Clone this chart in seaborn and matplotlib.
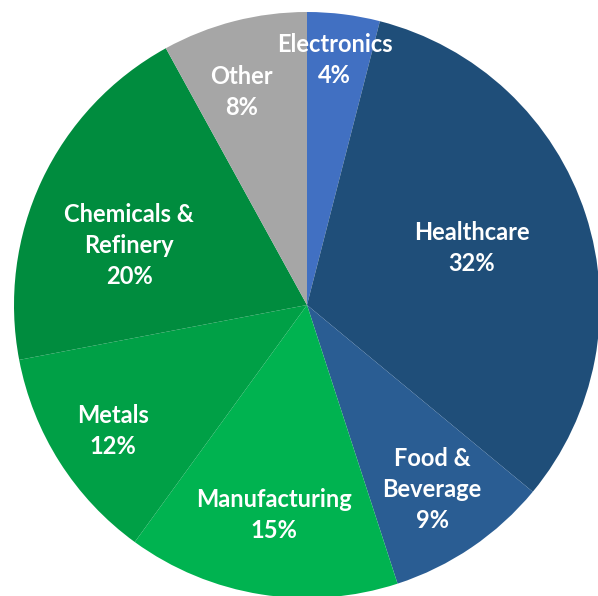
import matplotlib
matplotlib.use("Agg")
import matplotlib.pyplot as plt
import numpy as np
import seaborn as sns

# Share of demand by sector (percent), drawn clockwise from 12 o'clock
sectors = ["Electronics", "Healthcare", "Food &\nBeverage", "Manufacturing",
           "Metals", "Chemicals &\nRefinery", "Other"]
shares = [4, 32, 9, 15, 12, 20, 8]
colors = ["#4170C2", "#1F4E79", "#2A5D93", "#00B350", "#00A046", "#008C3E", "#A6A6A6"]

# Label placement: fraction of the radius and a small angular nudge (degrees)
label_radius = [0.84, 0.595, 0.76, 0.725, 0.79, 0.64, 0.76]
label_nudge = [0.7, 1.0, 0.0, 0.0, 0.6, 6.8, 2.8]

sns.set_theme(style="white")
plt.rcParams["font.family"] = ["Lato", "DejaVu Sans"]
palette = sns.color_palette(colors)

fig = plt.figure(figsize=(5.98, 5.96), dpi=100)
ax = fig.add_axes([0, 0, 1, 1])

wedges, _ = ax.pie(shares, colors=palette, startangle=90, counterclock=False,
                   radius=1.0, center=(0, 0), wedgeprops=dict(linewidth=0))

for w, name, val, r, nudge in zip(wedges, sectors, shares, label_radius, label_nudge):
    ang = np.deg2rad((w.theta1 + w.theta2) / 2 + nudge)
    ax.text(r * np.cos(ang), r * np.sin(ang), f"{name}\n{val}%",
            ha="center", va="center", color="white", fontsize=17,
            fontweight="bold", linespacing=1.42)

ax.set_xlim(-307 / 293, (598 - 307) / 293)
ax.set_ylim(-(596 - 305) / 293, 305 / 293)
ax.set_aspect("equal")
ax.axis("off")

fig.savefig("out.png", dpi=100, facecolor="white")
